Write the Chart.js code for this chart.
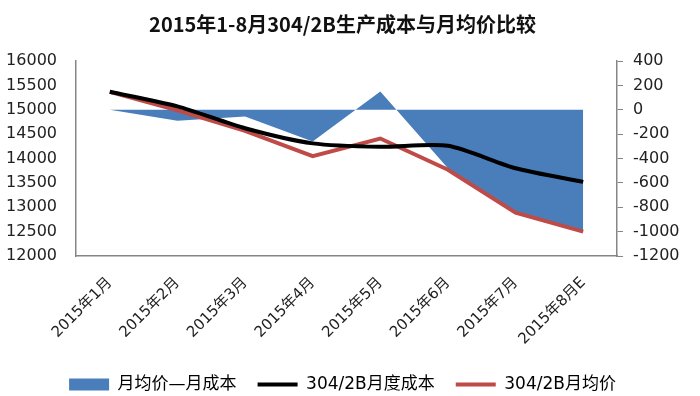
<!DOCTYPE html>
<html>
<head>
<meta charset="utf-8">
<script src="https://cdn.jsdelivr.net/npm/chart.js@4"></script>
<style>
  html, body { margin: 0; padding: 0; background: #fff; }
  #wrap { width: 700px; height: 396px; }
</style>
</head>
<body>
<div id="wrap"><canvas id="costChart" width="700" height="396"></canvas></div>
<script>
const months = ["2015年1月", "2015年2月", "2015年3月", "2015年4月", "2015年5月", "2015年6月", "2015年7月", "2015年8月E"];
const spread = [0, -90, -55, -260, 150, -480, -845, -990];
const monthlyCost = [15370, 15070, 14620, 14310, 14240, 14260, 13800, 13520];
const monthlyPrice = [15370, 14990, 14565, 14050, 14410, 13770, 12890, 12500];

const tickFont = { family: "'DejaVu Sans', 'Noto Sans CJK SC'", size: 16 };
const axisGray = "#868686";
const plain = v => String(v);

const ctx = document.getElementById("costChart").getContext("2d");
const costChart = new Chart(ctx, {
  type: "line",
  data: {
    labels: months,
    datasets: [
      {
        label: "月均价—月成本",
        data: spread,
        yAxisID: "y1",
        fill: "origin",
        backgroundColor: "#4A7EBB",
        borderColor: "#4A7EBB",
        borderWidth: 0,
        pointRadius: 0,
        tension: 0,
        order: 2
      },
      {
        label: "304/2B月度成本",
        data: monthlyCost,
        yAxisID: "y",
        borderColor: "#000000",
        backgroundColor: "#000000",
        borderWidth: 4,
        pointRadius: 0,
        tension: 0.25,
        fill: false,
        order: 0
      },
      {
        label: "304/2B月均价",
        data: monthlyPrice,
        yAxisID: "y",
        borderColor: "#BE4B48",
        backgroundColor: "#BE4B48",
        borderWidth: 4,
        pointRadius: 0,
        tension: 0,
        fill: false,
        order: 1
      }
    ]
  },
  options: {
    responsive: false,
    animation: false,
    layout: { padding: { left: 0, right: 15, top: 0, bottom: -7 } },
    plugins: {
      title: {
        display: true,
        text: "2015年1-8月304/2B生产成本与月均价比较",
        color: "#111",
        font: { family: "'Noto Sans CJK SC'", size: 20, weight: "bold" },
        padding: { top: 12, bottom: 25 }
      },
      legend: {
        position: "bottom",
        labels: {
          usePointStyle: true,
          pointStyleWidth: 40,
          boxHeight: 12,
          padding: 21,
          color: "#111",
          font: { family: "'DejaVu Sans', 'Noto Sans CJK SC'", size: 17 },
          sort: (a, b) => a.datasetIndex - b.datasetIndex,
          generateLabels: chart => chart.data.datasets.map((ds, i) => ({
            text: ds.label,
            datasetIndex: i,
            fillStyle: ds.backgroundColor,
            strokeStyle: ds.borderColor,
            lineWidth: i === 0 ? 0 : 4,
            pointStyle: i === 0 ? "rect" : "line",
            hidden: false
          }))
        }
      },
      tooltip: { enabled: false }
    },
    scales: {
      x: {
        offset: true,
        grid: { display: false, drawTicks: false },
        border: { display: true, color: axisGray, width: 1.5 },
        ticks: {
          color: "#222",
          font: { family: "'DejaVu Sans', 'Noto Sans CJK SC'", size: 15 },
          minRotation: 45,
          maxRotation: 45,
          padding: 18,
          autoSkip: false
        },
        afterFit: scale => { scale.height = 99; }
      },
      y: {
        position: "left",
        min: 12000,
        max: 16000,
        grid: { display: false, drawTicks: false },
        border: { display: true, color: axisGray, width: 1.5 },
        ticks: { stepSize: 500, color: "#222", font: tickFont, padding: 19, callback: plain },
        afterFit: scale => { scale.width = 76; }
      },
      y1: {
        position: "right",
        min: -1200,
        max: 400,
        grid: { display: true, drawOnChartArea: false, drawTicks: true, tickLength: 6, color: axisGray },
        border: { display: true, color: axisGray, width: 1.5 },
        ticks: { stepSize: 200, color: "#222", font: tickFont, padding: 10, callback: plain },
        afterFit: scale => { scale.width = 68; }
      }
    }
  }
});
</script>
</body>
</html>
